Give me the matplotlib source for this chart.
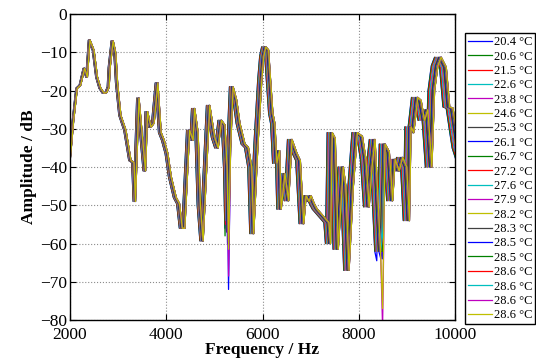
import numpy as np
import matplotlib.pyplot as plt

# temperatures from the legend
temps = [20.4, 20.6, 21.5, 22.6, 23.8, 24.6, 25.3, 26.1, 26.7, 27.2,
         27.6, 27.9, 28.2, 28.3, 28.5, 28.5, 28.6, 28.6, 28.6, 28.6]

# base response (middle of the band)
freq = [1950, 2000, 2062, 2139, 2208, 2291, 2347, 2401, 2484, 2555,
        2623, 2692, 2748, 2796, 2817, 2879, 2935, 2970, 3039, 3143,
        3247, 3309, 3340, 3413, 3490, 3548, 3590, 3662, 3725, 3802,
        3870, 3933, 4009, 4078, 4182, 4250, 4307, 4359, 4458, 4529,
        4562, 4633, 4681, 4737, 4874, 4978, 5048, 5117, 5186, 5232,
        5262, 5304, 5356, 5429, 5497, 5601, 5672, 5740, 5782, 5865,
        5948, 5990, 6031, 6088, 6125, 6177, 6218, 6260, 6316, 6349,
        6426, 6503, 6572, 6676, 6744, 6815, 6863, 6925, 6966, 7029,
        7091, 7195, 7334, 7367, 7403, 7465, 7527, 7631, 7683, 7750,
        7839, 7922, 8026, 8099, 8165, 8224, 8286, 8338, 8400, 8442,
        8494, 8581, 8650, 8702, 8785, 8857, 8941, 8997, 9030, 9086,
        9169, 9238, 9308, 9377, 9460, 9516, 9585, 9653, 9757, 9828,
        9896, 9965, 10021, 10200]
amp = [-44, -37, -28, -19.4, -18.6, -14.2, -16.5, -6.8, -9.5, -16.5,
       -19.4, -20.7, -20.5, -19.1, -14, -7, -10.3, -18, -26.5, -30.4,
       -38.3, -38.8, -49, -22, -33, -41, -25.5, -29.6, -28.5, -18,
       -31, -33, -36.5, -42.5, -48, -49.6, -56, -56, -30.4, -33,
       -24.7, -31, -50, -59.3, -23.9, -32.3, -35, -27.8, -29, -40,
       -60, -35, -19, -22.5, -28.6, -34, -34.9, -40, -57.4, -35,
       -17.3, -11, -8.6, -9.4, -16.5, -26, -28.6, -39, -35.7, -51,
       -41.7, -48.8, -32.8, -36.5, -38.3, -54.8, -47.5, -49, -47.5, -49.5,
       -51, -52.5, -54.5, -60, -31, -32.5, -61.5, -40, -45, -67,
       -45, -31, -32, -38, -50.4, -40, -32.8, -46, -62, -75,
       -34, -36, -48.8, -38, -41, -37.5, -40, -54, -29.5, -31,
       -21.8, -22.6, -27.8, -25, -40, -20, -13.5, -11.3, -13.9, -24.3,
       -24.6, -30.4, -35, -42]

# depth of the two sharp notches, one value per curve
notch_freq = [5262, 8442]
notch_a = [-56, -58, -55, -54, -57, -56, -57, -60, -59, -56,
           -55, -58, -57, -58, -72, -60, -58, -57, -68.5, -61.5]
notch_b = [-64.5, -60, -58.5, -56, -62, -60, -60, -64, -60, -58,
           -57, -63, -62, -61, -64, -62, -59, -58, -82, -77]

# old matlab colour order
colors = [(0, 0, 1), (0, 0.5, 0), (1, 0, 0), (0, 0.75, 0.75),
          (0.75, 0, 0.75), (0.75, 0.75, 0), (0.25, 0.25, 0.25)]

plt.rcParams['font.family'] = ['Liberation Serif', 'DejaVu Serif']
plt.rcParams['axes.unicode_minus'] = True

fig = plt.figure(figsize=(5.36, 3.6), dpi=100)
ax = fig.add_axes([0.1306, 0.111, 0.7183, 0.85])

c_ref = 331.3 + 0.606 * 25.0
for i, T in enumerate(temps):
    scale = (331.3 + 0.606 * T) / c_ref
    f = np.array(freq) * scale
    a = np.array(amp, dtype=float)
    a[freq.index(notch_freq[0])] = notch_a[i]
    a[freq.index(notch_freq[1])] = notch_b[i]
    ax.plot(f, a, color=colors[i % 7], lw=0.9, label=f'{T} °C')

ax.set_xlim(2000, 10000)
ax.set_ylim(-80, 0)
ax.set_xticks([2000, 4000, 6000, 8000, 10000])
ax.set_yticks(range(-80, 1, 10))
ax.grid(True, linestyle=':', color='0.55', lw=0.8)
ax.tick_params(direction='in', top=True, right=True, length=4, labelsize=12.5, pad=2)
ax.tick_params(axis='x', pad=5)
for s in ax.spines.values():
    s.set_linewidth(1.0)

ax.set_xlabel('Frequency / Hz', fontsize=12.5, fontweight='bold', labelpad=-1)
ax.set_ylabel('Amplitude / dB', fontsize=12.5, fontweight='bold', labelpad=2)

leg = fig.legend(loc='upper left', bbox_to_anchor=(0.8675, 0.908), fontsize=9,
                 frameon=True, fancybox=False, framealpha=1, edgecolor='black',
                 handlelength=1.9, handletextpad=0.15, labelspacing=0.19,
                 borderpad=0.25, borderaxespad=0)
leg.get_frame().set_linewidth(1.0)

fig.savefig('out.png', dpi=100)
